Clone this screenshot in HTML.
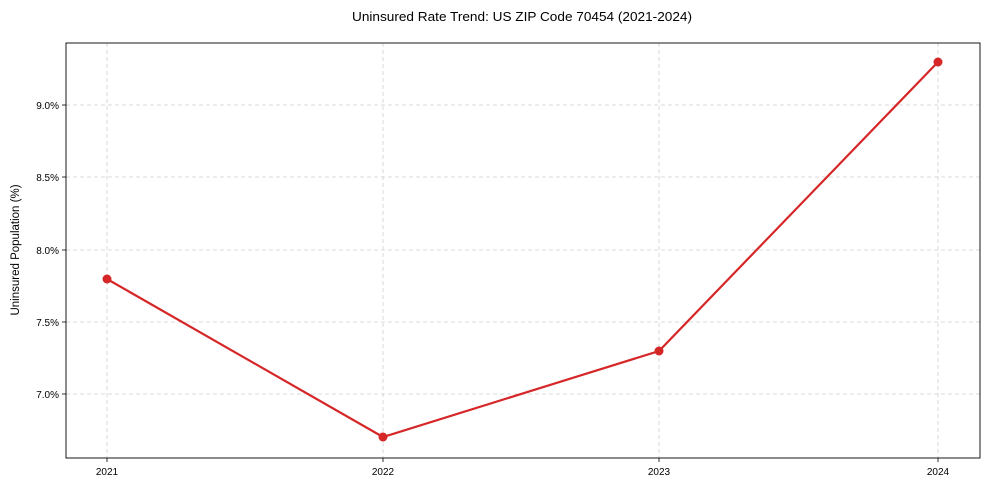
<!DOCTYPE html>
<html><head><meta charset="utf-8"><style>body{margin:0;background:#fff}svg{display:block;font-family:"Liberation Sans",Arial,sans-serif}</style></head>
<body>
<svg width="989" height="490" viewBox="0 0 989 490" xmlns="http://www.w3.org/2000/svg">
<rect width="989" height="490" fill="#fff"/>
<g stroke="#d0d0d0" stroke-width="0.8" stroke-dasharray="4,3">
<line x1="107" y1="43" x2="107" y2="458"/><line x1="383" y1="43" x2="383" y2="458"/>
<line x1="659" y1="43" x2="659" y2="458"/><line x1="938" y1="43" x2="938" y2="458"/>
<line x1="66" y1="105" x2="980" y2="105"/><line x1="66" y1="177" x2="980" y2="177"/>
<line x1="66" y1="250" x2="980" y2="250"/><line x1="66" y1="322" x2="980" y2="322"/>
<line x1="66" y1="394" x2="980" y2="394"/>
</g>
<rect x="66" y="43" width="914" height="415" fill="none" stroke="#000" stroke-width="0.9"/>
<g stroke="#000" stroke-width="0.8">
<line x1="107" y1="458" x2="107" y2="462"/><line x1="383" y1="458" x2="383" y2="462"/>
<line x1="659" y1="458" x2="659" y2="462"/><line x1="938" y1="458" x2="938" y2="462"/>
<line x1="62" y1="105" x2="66" y2="105"/><line x1="62" y1="177" x2="66" y2="177"/>
<line x1="62" y1="250" x2="66" y2="250"/><line x1="62" y1="322" x2="66" y2="322"/>
<line x1="62" y1="394" x2="66" y2="394"/>
</g>
<g font-size="10" fill="#000" text-anchor="middle">
<text x="107" y="475">2021</text><text x="383" y="475">2022</text><text x="659" y="475">2023</text><text x="938" y="475">2024</text>
</g>
<g font-size="10" fill="#000" text-anchor="end">
<text x="59" y="109">9.0%</text><text x="59" y="181">8.5%</text><text x="59" y="254">8.0%</text><text x="59" y="326">7.5%</text><text x="59" y="398">7.0%</text>
</g>
<text x="19" y="250" font-size="11.5" text-anchor="middle" transform="rotate(-90 19 250)">Uninsured Population (%)</text>
<text x="352" y="21" font-size="13" textLength="340" lengthAdjust="spacingAndGlyphs">Uninsured Rate Trend: US ZIP Code 70454 (2021-2024)</text>
<polyline points="107,279 383,437 659,351 938,62" fill="none" stroke="#d62728" stroke-width="2.2"/>
<g fill="#d62728"><circle cx="107" cy="279" r="4.5"/><circle cx="383" cy="437" r="4.5"/><circle cx="659" cy="351" r="4.5"/><circle cx="938" cy="62" r="4.5"/></g>
</svg>
</body></html>
